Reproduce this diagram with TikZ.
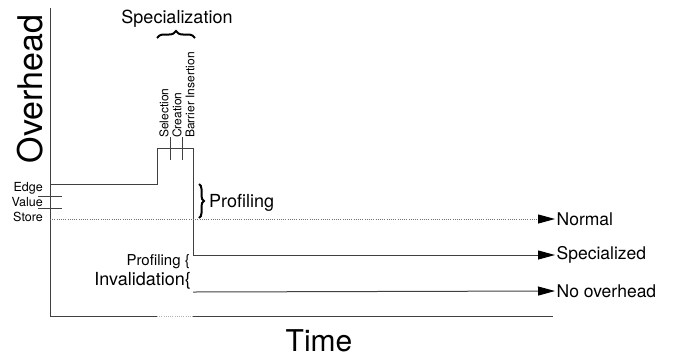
\documentclass[tikz,border=0pt]{standalone}
\usepackage{fontspec}
\setmainfont{TeX Gyre Heros}
\usetikzlibrary{arrows.meta,decorations.pathreplacing}
\newcommand{\fs}[1]{\fontsize{#1}{#1}\selectfont}
\begin{document}
\begin{tikzpicture}[x=1pt,y=-1pt,
  ln/.style={draw=black!75,line width=1pt},
  dotln/.style={draw=black!55,line width=1pt,dash pattern=on 1pt off 1.2pt},
  arr/.style={-{Triangle[length=17pt,width=9pt,color=black]}},
  lbl/.style={inner sep=1.5pt,anchor=west,font=\fs{17.5}},
  small/.style={inner sep=0pt,font=\fs{12.5}},
  vlab/.style={inner sep=0pt,rotate=90,anchor=west,font=\fs{12}},
  brc/.style={draw=black,line width=2pt,decorate,decoration={brace,amplitude=#1}}]
\useasboundingbox (0,0) rectangle (685,360);
% axes
\coordinate (ytop) at (50,8);
\coordinate (orig) at (50,316);
\coordinate (xa) at (157,316);
\coordinate (xb) at (193,316);
\coordinate (xend) at (553,316);
\draw[ln] (ytop) -- (orig) -- (xa);
\draw[dotln,draw=black!30] (xa) -- (xb);
\draw[ln] (xb) -- (xend);
\node[font=\fs{34},rotate=90,inner sep=0pt] (ov) at (30,89) {Overhead};
\node[font=\fs{30},inner sep=0pt] (time) at (319,341) {Time};
% right labels
\node[lbl] (normal) at (555,219) {Normal};
\node[lbl] (spec) at (555,255) {Specialized};
\node[lbl] (noov) at (555,291) {No overhead};
% profile path
\coordinate (p0) at (50,184);
\coordinate (p1) at (157,184);
\coordinate (p2) at (157,148);
\coordinate (p3) at (193,148);
\coordinate (p4) at (193,255);
\draw[ln,arr] (p0) -- (p1) -- (p2) -- (p3) -- (p4) -- (spec.west);
\coordinate (q0) at (193,292);
\draw[ln,arr] (q0) -- (noov.west);
\coordinate (d0) at (50,219);
\draw[dotln,arr] (d0) -- (normal.west);
% left ticks and labels
\node[small,anchor=east] (edge) at (43,188) {Edge};
\node[small,anchor=east] (value) at (43,202) {Value};
\node[small,anchor=east] (store) at (43,217) {Store};
\coordinate (t1a) at (38,196); \coordinate (t1b) at (62,196);
\coordinate (t2a) at (38,208); \coordinate (t2b) at (62,208);
\draw[ln] (t1a) -- (t1b);
\draw[ln] (t2a) -- (t2b);
% vertical labels
\node[vlab] (sel) at (164,138) {Selection};
\node[vlab] (cre) at (177,138) {Creation};
\node[vlab] (bar) at (190,138) {Barrier Insertion};
\coordinate (v1a) at (170,137); \coordinate (v1b) at (170,160);
\coordinate (v2a) at (182,137); \coordinate (v2b) at (182,160);
\draw[ln] (v1a) -- (v1b);
\draw[ln] (v2a) -- (v2b);
% specialization brace
\coordinate (s0) at (157,38);
\coordinate (s1) at (195,38);
\draw[brc=7pt] (s0) -- (s1);
\node[font=\fs{18},inner sep=0pt] (spz) at (177,19) {Specialization};
% profiling brace
\coordinate (b0) at (199,184);
\coordinate (b1) at (199,218);
\draw[brc=5pt] (b0) -- (b1);
\node[font=\fs{18},inner sep=0pt,anchor=west] (prof) at (209,203) {Profiling};
% invalidation labels
\node[font=\fs{15},inner sep=0pt,anchor=east] (prof2) at (190,262) {Profiling \{};
\node[font=\fs{18},inner sep=0pt,anchor=east] (inv) at (191,281) {Invalidation\{};
\end{tikzpicture}
\end{document}
